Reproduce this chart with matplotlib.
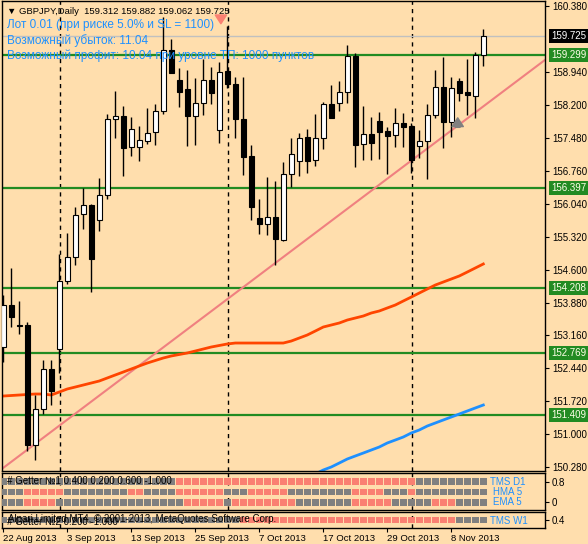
import numpy as np
import matplotlib.pyplot as plt
from matplotlib.transforms import blended_transform_factory

plt.rcParams['font.family'] = ['Liberation Sans', 'DejaVu Sans']

# GBPJPY daily, 22 Aug 2013 .. 14 Nov 2013
opens = [152.908, 153.828, 153.390, 153.390, 150.761, 151.549, 152.426, 152.864, 154.354, 154.880,
         155.822, 156.019, 155.691, 156.238, 157.904, 157.969, 157.290, 157.290, 157.422, 157.619,
         158.079, 159.415, 158.758, 158.561, 157.969, 158.254, 158.758, 157.663, 158.955, 158.671,
         157.904, 157.093, 155.734, 155.603, 155.756, 155.252, 156.699, 156.983, 157.509, 157.005,
         157.487, 158.232, 158.254, 158.495, 159.284, 157.356, 157.575, 157.860, 157.641, 157.553,
         157.816, 157.750, 157.312, 157.422, 157.991, 158.605, 157.838, 158.736, 158.495, 158.408,
         159.312]
highs = [154.047, 154.639, 153.916, 153.456, 151.856, 152.623, 152.623, 154.946, 155.406, 155.975,
         156.392, 156.050, 156.611, 158.013, 158.517, 158.188, 157.947, 157.750, 158.145, 158.232,
         160.139, 159.657, 159.021, 158.977, 158.802, 159.218, 159.043, 159.153, 159.941, 158.824,
         158.824, 157.334, 156.151, 156.633, 156.545, 156.961, 157.487, 157.597, 157.685, 158.013,
         158.276, 158.649, 158.736, 159.525, 159.350, 158.188, 157.947, 158.057, 157.728, 158.145,
         158.035, 157.816, 157.663, 158.232, 158.977, 159.262, 158.824, 158.802, 159.218, 159.372,
         159.882]
lows = [152.579, 153.346, 153.193, 150.629, 150.432, 151.440, 151.637, 152.338, 154.288, 154.705,
        155.493, 154.113, 155.450, 156.151, 157.487, 156.655, 157.093, 156.983, 157.356, 157.334,
        158.013, 158.912, 158.167, 157.312, 157.334, 157.991, 158.232, 157.378, 158.583, 157.487,
        156.677, 155.691, 155.384, 155.362, 154.705, 155.230, 156.414, 156.655, 156.720, 156.874,
        157.246, 157.926, 158.079, 158.254, 156.852, 157.005, 157.005, 157.027, 156.699, 157.290,
        157.290, 156.720, 157.049, 156.589, 157.926, 157.268, 157.509, 158.298, 157.991, 157.926,
        159.062]
closes = [153.828, 153.565, 153.368, 150.761, 151.549, 152.426, 151.944, 154.354, 154.880, 155.800,
          156.019, 154.836, 156.238, 157.904, 157.969, 157.268, 157.685, 157.444, 157.597, 158.079,
          159.415, 158.912, 158.495, 157.969, 158.254, 158.758, 158.473, 158.933, 158.671, 157.904,
          157.071, 155.975, 155.603, 155.756, 155.274, 156.699, 157.137, 157.487, 156.983, 157.487,
          158.232, 157.926, 158.495, 159.284, 157.334, 157.575, 157.378, 157.619, 157.531, 157.816,
          157.728, 157.005, 157.422, 157.991, 158.605, 157.838, 158.583, 158.473, 158.430, 159.306,
          159.725]

ma_red = [151.834, 151.845, 151.856, 151.867, 151.878, 151.878, 151.856, 151.922, 151.988, 152.031,
          152.075, 152.119, 152.163, 152.229, 152.295, 152.360, 152.426, 152.492, 152.557, 152.612,
          152.667, 152.711, 152.744, 152.777, 152.820, 152.864, 152.908, 152.941, 152.974, 152.995,
          152.995, 152.995, 152.995, 152.995, 152.995, 152.995, 153.039, 153.105, 153.171, 153.258,
          153.346, 153.390, 153.434, 153.499, 153.543, 153.587, 153.653, 153.697, 153.763, 153.828,
          153.916, 154.003, 154.091, 154.179, 154.266, 154.332, 154.398, 154.464, 154.551, 154.639,
          154.727]
ma_blue_start = 39
ma_blue = [150.125, 150.213, 150.279, 150.366, 150.454, 150.520, 150.585, 150.651, 150.717, 150.805,
           150.870, 150.936, 151.024, 151.090, 151.177, 151.243, 151.309, 151.374, 151.440, 151.506,
           151.572, 151.637]

levels = [159.299, 156.397, 154.208, 152.769, 151.409]
bid = 159.725
trend_x = [0, 60]
trend_y = [150.26, 158.18]
separators = [7.1, 28.1, 51.1]

date_idx = [0, 8, 16, 24, 32, 40, 48, 56]
date_labels = ['22 Aug 2013', '3 Sep 2013', '13 Sep 2013', '25 Sep 2013',
               '7 Oct 2013', '17 Oct 2013', '29 Oct 2013', '8 Nov 2013']
price_ticks = [160.380, 158.940, 158.200, 157.480, 156.760, 156.040, 155.320,
               154.600, 153.880, 153.160, 152.440, 151.720, 151.000, 150.280]

# indicator rows: bar ranges shown in salmon, the rest grey
tms_d1_red = [(22, 51)]
hma5_red = [(3, 7), (16, 17), (22, 27), (31, 35), (44, 47), (51, 51)]
ema5_red = [(3, 6), (23, 27), (29, 36), (44, 48), (54, 56)]
tms_w1_red = [(30, 56)]

BG = '#FFDEAD'
GREEN = '#228B22'
BLUE = '#1E90FF'
SALMON = '#FA8072'
W, H = 588, 544

fig = plt.figure(figsize=(W / 100, H / 100), dpi=100, facecolor=BG)


def add_ax(top, bottom):
    a = fig.add_axes([2 / W, 1 - bottom / H, 543 / W, (bottom - top) / H])
    a.set_facecolor(BG)
    for s in a.spines.values():
        s.set_color('black')
        s.set_linewidth(1)
    a.set_xlim(-0.16, 67.71)
    a.yaxis.tick_right()
    a.tick_params(axis='y', labelsize=7, length=3, pad=2, colors='black')
    a.tick_params(axis='x', bottom=False, labelbottom=False)
    for s in separators:
        a.axvline(s, color='black', lw=1, ls=(0, (3, 3)), zorder=1)
    return a


n = len(opens)
idx = np.arange(n)
o = np.array(opens)
c = np.array(closes)

# ---------------- main price panel
ax = add_ax(1, 471)
ax.set_ylim(150.191, 160.489)
ax.set_yticks(price_ticks)
ax.set_yticklabels(['%.3f' % t for t in price_ticks])

for lv in levels:
    ax.axhline(lv, color=GREEN, lw=1.6, zorder=2)
ax.axhline(bid, color='#C0C0C0', lw=1, zorder=2)
ax.axline((trend_x[0], trend_y[0]), (trend_x[1], trend_y[1]), color='#F08080', lw=1.5, zorder=2)
ax.plot(idx, ma_red, color='#FF4500', lw=2, zorder=2)
ax.plot(np.arange(ma_blue_start, ma_blue_start + len(ma_blue)), ma_blue, color=BLUE, lw=2, zorder=2)

ax.vlines(idx, lows, highs, color='black', lw=1, zorder=3)
up = c >= o
ax.bar(idx, np.maximum(np.abs(c - o), 0.02), bottom=np.minimum(o, c), width=0.6,
       color=np.where(up, 'white', 'black'), edgecolor='black', lw=0.8, zorder=4)

ax.annotate('', xy=(27.2, 159.93), xytext=(27.2, 160.22),
            arrowprops=dict(arrowstyle='simple,head_width=0.9,head_length=0.7,tail_width=0.35',
                            color=SALMON, mutation_scale=9), zorder=5)
ax.annotate('', xy=(56.8, 157.99), xytext=(56.8, 157.66),
            arrowprops=dict(arrowstyle='simple,head_width=0.9,head_length=0.7,tail_width=0.35',
                            color='#808080', mutation_scale=9), zorder=5)

tr = blended_transform_factory(ax.transAxes, ax.transData)
for lv in levels:
    ax.text(1 + 6 / 543, lv, '%.3f' % lv, transform=tr, fontsize=7, color='#FFFFE8',
            va='center', ha='left', zorder=6,
            bbox=dict(boxstyle='square,pad=0.2', fc=GREEN, ec='none'))
ax.text(1 + 6 / 543, bid, '%.3f' % bid, transform=tr, fontsize=7, color='white',
        va='center', ha='left', zorder=6,
        bbox=dict(boxstyle='square,pad=0.2', fc='black', ec='none'))

# ---------------- indicator panels
def squares(a, level, ranges):
    cols = ['#808080'] * n
    for lo, hi in ranges:
        for k in range(lo, hi + 1):
            cols[k] = SALMON
    a.scatter(idx, [level] * n, c=cols, marker='s', s=22, linewidths=0, zorder=3)


ax1 = add_ax(473, 510)
ax1.set_ylim(-0.286, 1.124)
ax1.set_yticks([0.8, 0])
ax1.set_yticklabels(['0.8', '0'])
squares(ax1, 0.8, tms_d1_red)
squares(ax1, 0.4, hma5_red)
squares(ax1, 0.0, ema5_red)

ax2 = add_ax(512, 528)
ax2.set_ylim(0.09, 0.71)
ax2.set_yticks([0.4])
ax2.set_yticklabels(['0.4'])
squares(ax2, 0.4, tms_w1_red)
ax2.tick_params(axis='x', bottom=True, labelbottom=True, labelsize=6.8, length=3, pad=1)
ax2.set_xticks(date_idx)
ax2.set_xticklabels(date_labels, ha='left')

# ---------------- texts
def ftext(x, y, s, **kw):
    fig.text(x / W, 1 - y / H, s, va='center', ha='left', zorder=10, **kw)


ftext(7, 11, '▼ GBPJPY,Daily  159.312 159.882 159.062 159.725', fontsize=6.8, color='black')
ftext(7, 25, 'Лот 0.01 (при риске 5.0% и SL = 1100)', fontsize=8.5, color=BLUE)
ftext(7, 41, 'Возможный убыток: 11.04', fontsize=8.5, color=BLUE)
ftext(7, 56, 'Возможный профит: 10.04 при уровне ТП: 1000 пунктов', fontsize=8.5, color=BLUE)

ftext(7, 481, '# Getter №1 0.400 0.200 0.600 -1.000', fontsize=7, color='black')
ftext(490, 482, 'TMS D1', fontsize=7, color=BLUE)
ftext(493, 492, 'HMA 5', fontsize=7, color=BLUE)
ftext(493, 502, 'EMA 5', fontsize=7, color=BLUE)
ftext(8, 519, 'Alpari Limited MT4, © 2001-2013, MetaQuotes Software Corp.', fontsize=7, color='black')
ftext(7, 522, '# Getter №2 0.200 -1.000', fontsize=7, color='black')
ftext(490, 521, 'TMS W1', fontsize=7, color=BLUE)

fig.savefig('out.png', dpi=100, facecolor=BG)
